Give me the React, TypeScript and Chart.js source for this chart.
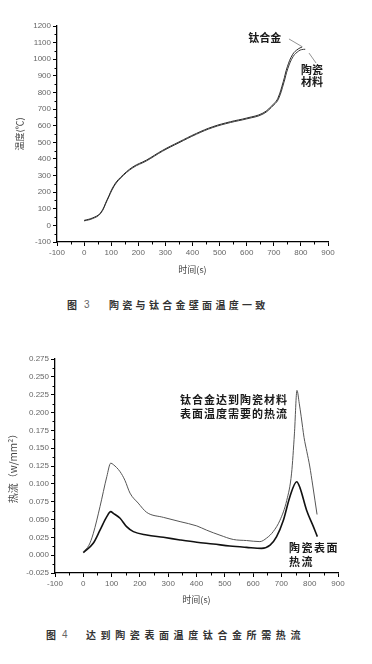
import React, { useEffect, useRef } from "react";
import { Chart, registerables } from "chart.js";

Chart.register(...registerables);

// ---------- Figure 3 data: wall temperature (°C) vs time (s) ----------
const titaniumTime = [0, 30, 60, 85, 110, 135, 180, 230, 290, 350, 415, 475, 540, 600, 660, 700, 715, 735, 750, 770, 790, 805];
const titaniumTemp = [30, 44, 74, 155, 240, 290, 352, 393, 452, 502, 554, 594, 624, 646, 676, 732, 765, 865, 955, 1030, 1062, 1074];
const ceramicTime = [0, 30, 60, 85, 110, 135, 180, 230, 290, 350, 415, 475, 540, 600, 660, 700, 717, 737, 752, 772, 792, 803, 816];
const ceramicTemp = [27, 40, 70, 150, 234, 285, 347, 388, 447, 497, 549, 589, 619, 641, 670, 725, 760, 858, 945, 1018, 1050, 1058, 1060];

const fig3XTicks = { min: -100, max: 900, step: 100 };
const fig3YTicks = { min: -100, max: 1200, step: 100 };

// ---------- Figure 4 data: heat flux (w/mm²) vs time (s) ----------
const requiredFluxTime = [0, 20, 35, 59, 83, 97, 106, 130, 147, 165, 194, 224, 283, 342, 401, 436, 483, 530, 577, 624, 648, 671, 695, 719, 736, 746, 755, 763, 770, 780, 790, 800, 811, 826];
const requiredFlux = [0.005, 0.014, 0.03, 0.068, 0.11, 0.129, 0.127, 0.117, 0.105, 0.087, 0.073, 0.06, 0.053, 0.047, 0.041, 0.035, 0.028, 0.022, 0.0205, 0.019, 0.024, 0.033, 0.049, 0.077, 0.115, 0.17, 0.231, 0.213, 0.194, 0.165, 0.145, 0.125, 0.097, 0.057];
const surfaceFluxTime = [0, 35, 59, 83, 97, 106, 130, 153, 177, 224, 283, 342, 401, 459, 518, 577, 630, 660, 683, 707, 730, 754, 766, 789, 813, 827];
const surfaceFlux = [0.0035, 0.0166, 0.035, 0.054, 0.061, 0.0587, 0.0517, 0.04, 0.033, 0.0283, 0.025, 0.0213, 0.018, 0.0156, 0.0128, 0.0109, 0.0095, 0.014, 0.026, 0.049, 0.082, 0.103, 0.094, 0.063, 0.04, 0.026];

const fig4XTicks = { min: -100, max: 900, step: 100 };
const fig4YTicks = { min: -0.025, max: 0.275, step: 0.025 };

const zip = (xs: number[], ys: number[]) => xs.map((x, i) => ({ x, y: ys[i] }));

type Note = { lines: string[]; x: number; y: number; lineGap: number; align: CanvasTextAlign; size: number; spacing: number };
type Leader = { x1: number; y1: number; x2: number; y2: number };

const minorTicksPlugin = {
  id: "minorTicks",
  afterDraw(chart: any) {
    const ctx = chart.ctx as CanvasRenderingContext2D;
    ctx.save();
    ctx.strokeStyle = "#000";
    ctx.lineWidth = 1;
    ["x", "y"].forEach((id) => {
      const s = chart.scales[id];
      const ticks = s.ticks;
      for (let i = 0; i < ticks.length - 1; i++) {
        const mid = (ticks[i].value + ticks[i + 1].value) / 2;
        const p = Math.round(s.getPixelForValue(mid)) + 0.5;
        ctx.beginPath();
        if (id === "x") {
          ctx.moveTo(p, s.top);
          ctx.lineTo(p, s.top + 2.5);
        } else {
          ctx.moveTo(s.right, p);
          ctx.lineTo(s.right - 2.5, p);
        }
        ctx.stroke();
      }
    });
    ctx.restore();
  },
};

const makeNotesPlugin = (notes: Note[], leaders: Leader[]) => ({
  id: "notes",
  afterDatasetsDraw(chart: any) {
    const ctx = chart.ctx as CanvasRenderingContext2D;
    const xs = chart.scales.x;
    const ys = chart.scales.y;
    ctx.save();
    ctx.strokeStyle = "#777";
    ctx.lineWidth = 0.8;
    leaders.forEach((l) => {
      ctx.beginPath();
      ctx.moveTo(xs.getPixelForValue(l.x1), ys.getPixelForValue(l.y1));
      ctx.lineTo(xs.getPixelForValue(l.x2), ys.getPixelForValue(l.y2));
      ctx.stroke();
    });
    ctx.fillStyle = "#1a1a1a";
    ctx.textBaseline = "middle";
    notes.forEach((n) => {
      ctx.font = `bold ${n.size}px "Noto Sans CJK SC", sans-serif`;
      (ctx as any).letterSpacing = `${n.spacing}px`;
      ctx.textAlign = n.align;
      const px = xs.getPixelForValue(n.x);
      n.lines.forEach((line, i) => {
        const py = ys.getPixelForValue(n.y) + i * n.lineGap;
        ctx.fillText(line, px, py);
      });
    });
    ctx.restore();
  },
});

type Cfg = {
  datasets: any[];
  xTicks: { min: number; max: number; step: number };
  yTicks: { min: number; max: number; step: number };
  yFormat: (v: number) => string;
  yTitle: string;
  yTitleSize: number;
  yTitlePad: number;
  yWidth: number;
  xHeight: number;
  padding: { top: number; right: number; bottom: number; left: number };
  notes: Note[];
  leaders: Leader[];
};

const tickFont = { family: '"Liberation Sans", Arial, sans-serif', size: 8 };

function buildConfig(cfg: Cfg): any {
  return {
    type: "line",
    data: { datasets: cfg.datasets },
    options: {
      responsive: false,
      animation: false,
      layout: { padding: cfg.padding },
      plugins: { legend: { display: false }, tooltip: { enabled: false } },
      elements: { point: { radius: 0 } },
      scales: {
        x: {
          type: "linear",
          min: cfg.xTicks.min,
          max: cfg.xTicks.max,
          afterFit: (s: any) => {
            s.height = cfg.xHeight;
          },
          ticks: {
            stepSize: cfg.xTicks.step,
            color: "#666",
            font: tickFont,
            padding: 2,
            maxRotation: 0,
            autoSkip: false,
            callback: (v: number) => String(Math.round(v)),
          },
          grid: { drawOnChartArea: false, drawTicks: true, tickLength: 4, tickColor: "#000", tickWidth: 1 },
          border: { display: true, color: "#000", width: 1.3 },
          title: {
            display: true,
            text: "时间(s)",
            color: "#444",
            font: { family: '"Noto Sans CJK SC", sans-serif', size: 9 },
            padding: { top: 0, bottom: 14.6 },
          },
        },
        y: {
          type: "linear",
          min: cfg.yTicks.min,
          max: cfg.yTicks.max,
          afterFit: (s: any) => {
            s.width = cfg.yWidth;
          },
          ticks: {
            stepSize: cfg.yTicks.step,
            color: "#666",
            font: tickFont,
            padding: 2,
            autoSkip: false,
            callback: (v: number) => cfg.yFormat(v),
          },
          grid: { drawOnChartArea: false, drawTicks: true, tickLength: 4, tickColor: "#000", tickWidth: 1 },
          border: { display: true, color: "#000", width: 1.3 },
          title: {
            display: true,
            text: cfg.yTitle,
            color: "#444",
            font: { family: '"Noto Sans CJK SC", sans-serif', size: cfg.yTitleSize },
            padding: { top: cfg.yTitlePad, bottom: 0 },
          },
        },
      },
    },
    plugins: [minorTicksPlugin, makeNotesPlugin(cfg.notes, cfg.leaders)],
  };
}

function ChartCanvas({ cfg, top }: { cfg: Cfg; top: number }) {
  const ref = useRef<HTMLCanvasElement | null>(null);
  useEffect(() => {
    if (!ref.current) return;
    const chart = new Chart(ref.current, buildConfig(cfg));
    return () => chart.destroy();
  }, []);
  return (
    <canvas
      ref={ref}
      width={372}
      height={290}
      style={{ position: "absolute", left: 0, top, width: 372, height: 290, display: "block" }}
    />
  );
}

const fig3: Cfg = {
  datasets: [
    {
      label: "钛合金",
      data: zip(titaniumTime, titaniumTemp),
      borderColor: "#2a2a2a",
      borderWidth: 1,
      tension: 0.4,
      fill: false,
    },
    {
      label: "陶瓷材料",
      data: zip(ceramicTime, ceramicTemp),
      borderColor: "#3a3a3a",
      borderWidth: 1,
      tension: 0.4,
      fill: false,
    },
  ],
  xTicks: fig3XTicks,
  yTicks: fig3YTicks,
  yFormat: (v) => String(Math.round(v)),
  yTitle: "温度(℃)",
  yTitleSize: 9,
  yTitlePad: 14.6,
  yWidth: 57,
  xHeight: 48,
  padding: { top: 26, right: 44, bottom: 0, left: 0 },
  notes: [
    { lines: ["钛合金"], x: 667, y: 1128, lineGap: 12, align: "center", size: 11, spacing: 0 },
    { lines: ["陶瓷", "材料"], x: 841, y: 935, lineGap: 12, align: "center", size: 11, spacing: 0 },
  ],
  leaders: [
    { x1: 756, y1: 1122, x2: 804, y2: 1076 },
    { x1: 830, y1: 1037, x2: 856, y2: 977 },
  ],
};

const fig4: Cfg = {
  datasets: [
    {
      label: "钛合金达到陶瓷材料表面温度需要的热流",
      data: zip(requiredFluxTime, requiredFlux),
      borderColor: "#555",
      borderWidth: 1,
      cubicInterpolationMode: "monotone",
      fill: false,
    },
    {
      label: "陶瓷表面热流",
      data: zip(surfaceFluxTime, surfaceFlux),
      borderColor: "#111",
      borderWidth: 1.6,
      cubicInterpolationMode: "monotone",
      fill: false,
    },
  ],
  xTicks: fig4XTicks,
  yTicks: fig4YTicks,
  yFormat: (v) => v.toFixed(3),
  yTitle: "热流（w/mm²）",
  yTitleSize: 10,
  yTitlePad: 7,
  yWidth: 55,
  xHeight: 47,
  padding: { top: 29, right: 34, bottom: 0, left: 0 },
  notes: [
    { lines: ["钛合金达到陶瓷材料", "表面温度需要的热流"], x: 342, y: 0.2175, lineGap: 14, align: "left", size: 11, spacing: 1 },
    { lines: ["陶瓷表面", "热流"], x: 727, y: 0.01, lineGap: 14, align: "left", size: 11, spacing: 1.5 },
  ],
  leaders: [],
};

const captionStyle: React.CSSProperties = {
  position: "absolute",
  whiteSpace: "nowrap",
  lineHeight: "14px",
  fontFamily: '"Noto Sans CJK SC", sans-serif',
  fontWeight: "bold",
  color: "#333",
};

export default function App() {
  return (
    <div style={{ position: "absolute", left: 0, top: 0, width: 372, height: 664, background: "#fff", overflow: "hidden" }}>
      <ChartCanvas cfg={fig3} top={0} />
      <div style={{ ...captionStyle, left: 67, top: 298, fontSize: 10 }}>图</div>
      <div style={{ ...captionStyle, left: 84, top: 298, fontSize: 10, fontWeight: "normal", color: "#666", fontFamily: '"Liberation Sans", sans-serif' }}>3</div>
      <div style={{ ...captionStyle, left: 109, top: 298, fontSize: 10, letterSpacing: "3.3px" }}>陶瓷与钛合金壁面温度一致</div>
      <ChartCanvas cfg={fig4} top={330} />
      <div style={{ ...captionStyle, left: 46, top: 628, fontSize: 10 }}>图</div>
      <div style={{ ...captionStyle, left: 62, top: 628, fontSize: 10, fontWeight: "normal", color: "#666", fontFamily: '"Liberation Sans", sans-serif' }}>4</div>
      <div style={{ ...captionStyle, left: 86, top: 628, fontSize: 10, letterSpacing: "4.6px" }}>达到陶瓷表面温度钛合金所需热流</div>
    </div>
  );
}
